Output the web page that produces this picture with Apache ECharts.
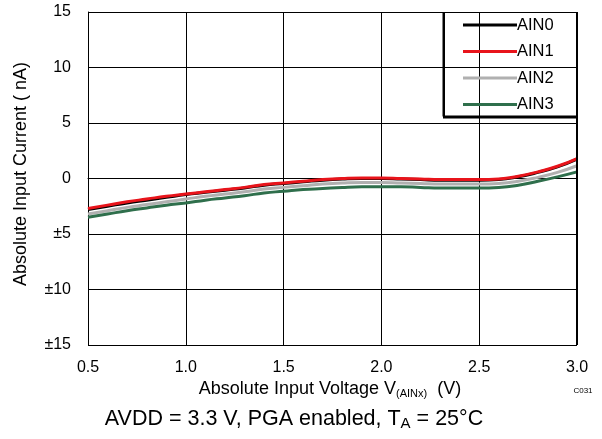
<!DOCTYPE html>
<html><head><meta charset="utf-8">
<script src="https://cdn.jsdelivr.net/npm/echarts@6/dist/echarts.min.js"></script>
<style>html,body{margin:0;padding:0;background:#fff}#c{width:602px;height:439px}</style>
</head><body><div id="c"></div>
<script>
var voltage = [0.5,0.6,0.7,0.8,0.9,1.0,1.1,1.2,1.3,1.4,1.5,1.6,1.7,1.8,1.9,2.0,2.1,2.2,2.3,2.4,2.5,2.6,2.7,2.8,2.9,3.0];
var ain0 = [-2.8,-2.5,-2.2,-1.95,-1.7,-1.45,-1.25,-1.05,-0.85,-0.6,-0.45,-0.3,-0.15,-0.05,0.0,0.0,-0.05,-0.1,-0.15,-0.15,-0.15,-0.1,0.15,0.55,1.05,1.75];
var ain1 = [-2.7,-2.4,-2.1,-1.85,-1.6,-1.4,-1.2,-1.0,-0.8,-0.55,-0.4,-0.25,-0.1,0.0,0.05,0.05,0.0,-0.05,-0.1,-0.1,-0.1,-0.05,0.2,0.6,1.1,1.8];
var ain2 = [-3.2,-2.9,-2.6,-2.35,-2.1,-1.85,-1.6,-1.4,-1.2,-0.95,-0.8,-0.65,-0.5,-0.4,-0.35,-0.35,-0.4,-0.45,-0.5,-0.5,-0.5,-0.45,-0.25,0.1,0.55,1.15];
var ain3 = [-3.5,-3.2,-2.9,-2.65,-2.4,-2.2,-1.95,-1.75,-1.55,-1.3,-1.15,-1.0,-0.9,-0.8,-0.75,-0.75,-0.75,-0.8,-0.85,-0.85,-0.85,-0.8,-0.6,-0.25,0.15,0.6];
var yTickValues = [15,10,5,0,-5,-10,-15];
var yTickLabels = ['15','10','5','0','±5','±10','±15'];
var seriesNames = ['AIN0','AIN1','AIN2','AIN3'];
var seriesColors = ['#000000','#e8141b','#b0b0b0','#2f6f4c'];

function pairs(ys){ return voltage.map(function(x,i){ return [x, ys[i]]; }); }
var chart = echarts.init(document.getElementById('c'), null, {renderer:'canvas'});
var FONT = 'Liberation Sans, Arial, sans-serif';
var allData = [ain0, ain1, ain2, ain3];
var order = [0,2,3,1];
var series = order.map(function(k){
  return {
    name: seriesNames[k], type:'line', smooth:true, symbol:'none',
    data: pairs(allData[k]),
    lineStyle:{color:seriesColors[k], width:3},
    itemStyle:{color:seriesColors[k]},
    z: 3 + (k===1?2:0)
  };
});
chart.setOption({
  animation:false,
  grid:{left:88, right:25, top:12, bottom:94},
  xAxis:{type:'value', min:0.5, max:3.0, interval:0.5,
    axisLine:{show:true, lineStyle:{color:'#000', width:1}},
    axisTick:{show:false},
    splitLine:{show:true, lineStyle:{color:'#000', width:1}},
    axisLabel:{color:'#000', fontFamily:FONT, fontSize:16, margin:15,
      formatter:function(v){ return v.toFixed(1); }}
  },
  yAxis:{type:'value', min:-15, max:15, interval:5,
    axisLine:{show:true, lineStyle:{color:'#000', width:1}},
    axisTick:{show:false},
    splitLine:{show:true, lineStyle:{color:'#000', width:1}},
    axisLabel:{color:'#000', fontFamily:FONT, fontSize:16, margin:17,
      formatter:function(v){ var i = yTickValues.indexOf(v); return i>=0 ? yTickLabels[i] : ''; }}
  },
  legend:{orient:'vertical', left:458, top:11, itemWidth:54, itemHeight:3, itemGap:8.5,
    icon:'rect', data:seriesNames,
    textStyle:{color:'#000', fontFamily:FONT, fontSize:16.5, padding:[0,0,0,-5], lineHeight:18}},
  series: series,
  graphic:[
    {type:'rect', shape:{x:443, y:12.5, width:134, height:104}, style:{fill:'none', stroke:'#000', lineWidth:1}, z:10, silent:true},
    {type:'line', shape:{x1:444, y1:12, x2:444, y2:118}, style:{stroke:'#000', lineWidth:2}, z:10},
    {type:'line', shape:{x1:443, y1:117, x2:578, y2:117}, style:{stroke:'#000', lineWidth:3}, z:10},
    {type:'line', shape:{x1:577, y1:12, x2:577, y2:345}, style:{stroke:'#000', lineWidth:2}, z:10},
    {type:'text', rotation:Math.PI/2, x:21, y:174,
      style:{text:'Absolute Input Current ( nA)', fontFamily:FONT, fontSize:18, fill:'#000', textAlign:'center', textVerticalAlign:'middle'}},
    {type:'text', x:330, y:389,
      style:{text:'{n|Absolute Input Voltage V}{s|(AINx)}{n|  (V)}', textAlign:'center', textVerticalAlign:'middle',
        rich:{n:{fontFamily:FONT, fontSize:18, color:'#000'}, s:{fontFamily:FONT, fontSize:11, color:'#000', padding:[9,0,0,0]}}}},
    {type:'text', x:583, y:391,
      style:{text:'C031', fontFamily:FONT, fontSize:8, fill:'#000', textAlign:'center', textVerticalAlign:'middle'}},
    {type:'text', x:294, y:419,
      style:{text:'{n|AVDD = 3.3 V, PGA enabled, T}{s|A}{n| = 25°C}', textAlign:'center', textVerticalAlign:'middle',
        rich:{n:{fontFamily:FONT, fontSize:21.5, color:'#000'}, s:{fontFamily:FONT, fontSize:15, color:'#000', padding:[9,0,0,0]}}}}
  ]
});
</script></body></html>
